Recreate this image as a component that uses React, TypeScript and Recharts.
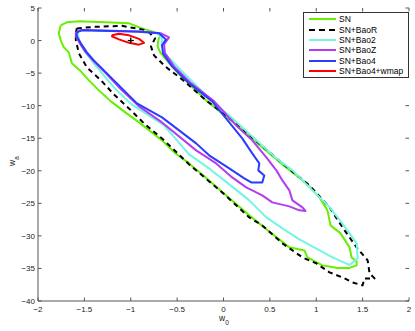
import { ScatterChart, Scatter, XAxis, YAxis, Legend } from 'recharts';

const FONT = '"Liberation Sans", Arial, Helvetica, sans-serif';
const AXIS = '#555';
const PLOT = { left: 38, right: 409, top: 8, bottom: 301 };

const xTicks = [-2, -1.5, -1, -0.5, 0, 0.5, 1, 1.5, 2];
const yTicks = [-40, -35, -30, -25, -20, -15, -10, -5, 0, 5];

const seriesNames = ['SN', 'SN+BaoR', 'SN+Bao2', 'SN+BaoZ', 'SN+Bao4', 'SN+Bao4+wmap'];
const seriesColors = ['#66f000', '#000000', '#72f5e4', '#b33cf0', '#2a3cff', '#ff0000'];

// contour outlines, [w0, wa]
const sn: [number, number][] = [
  [-1.755, 2.33], [-1.69, 2.8], [-1.559, 2.95], [-1.271, 2.8], [-1.019, 2.64], [-0.879, 1.87],
  [-0.771, 1.41], [-0.674, 0.95], [-0.701, 0.18], [-0.711, -0.89], [-0.679, -1.89], [-0.565, -3.81],
  [-0.447, -5.65], [-0.187, -9.19], [0.17, -13.33], [0.4, -16.2], [0.635, -19.02], [0.894, -21.94],
  [1.035, -24.09], [1.121, -26.08], [1.154, -28.39], [1.262, -29.61], [1.359, -31.76], [1.381, -33.3],
  [1.435, -33.92], [1.435, -34.53], [1.359, -34.92], [1.229, -34.92], [1.067, -34.53], [0.905, -33.3],
  [0.872, -32.23], [0.71, -31.76], [0.462, -28.99], [0.278, -26.85], [0.029, -23.78], [-0.155, -21.48],
  [-0.371, -18.87], [-0.52, -17.3], [-0.663, -15.33], [-0.911, -12.57], [-1.073, -10.88], [-1.214, -9.34],
  [-1.344, -7.65], [-1.451, -6.11], [-1.538, -4.73], [-1.635, -3.5], [-1.668, -1.81], [-1.722, -1.04],
  [-1.755, 0.03], [-1.776, 1.11],
];

const snBaoR: [number, number][] = [
  [-1.582, 1.87], [-1.398, 2.1], [-1.095, 2.26], [-0.857, 1.64], [-0.803, 1.26], [-0.738, 0.34],
  [-0.782, -0.89], [-0.749, -2.27], [-0.63, -3.96], [-0.447, -5.96], [-0.187, -9.19], [0.094, -12.26],
  [0.635, -18.87], [0.927, -22.25], [1.143, -25.62], [1.283, -28.69], [1.435, -31.76], [1.554, -33.76],
  [1.575, -35.76], [1.629, -36.53], [1.521, -36.53], [1.499, -37.6], [1.391, -37.14], [1.283, -36.38],
  [1.143, -35.6], [1.002, -34.23], [0.851, -33.3], [0.635, -31.15], [0.418, -28.39], [0.278, -27.16],
  [-0.014, -23.32], [-0.371, -19.02], [-0.641, -15.33], [-0.857, -12.72], [-0.998, -10.72], [-1.182, -8.26],
  [-1.321, -6.11], [-1.473, -4.12], [-1.559, -1.97], [-1.592, 0.03], [-1.592, 1.11],
];

const snBao2: [number, number][] = [
  [-1.571, 1.41], [-1.506, 1.62], [-0.911, 1.41], [-0.717, 1.18], [-0.663, 0.34], [-0.668, -0.74],
  [-0.641, -1.81], [-0.479, -4.27], [-0.187, -8.42], [0.094, -11.95], [0.57, -18.1], [0.743, -19.94],
  [1.143, -25.58], [1.272, -27.92], [1.359, -29.61], [1.435, -31.15], [1.446, -33.46], [1.359, -34.45],
  [1.175, -33.3], [0.818, -30.54], [0.635, -28.85], [0.462, -27.16], [0.278, -24.55], [0.062, -22.09],
  [-0.155, -19.64], [-0.371, -17.48], [-0.641, -13.03], [-1.001, -9.69], [-1.182, -7.19], [-1.398, -3.5],
  [-1.506, -1.51], [-1.559, 0.03],
];

const snBaoZ: [number, number][] = [
  [-1.592, 1.26], [-1.528, 1.64], [-0.911, 1.41], [-0.674, 1.11], [-0.587, 0.49], [-0.641, -0.58],
  [-0.63, -1.97], [-0.533, -3.96], [-0.349, -6.57], [-0.1, -9.34], [0.137, -13.03], [0.31, -15.33],
  [0.462, -17.94], [0.57, -19.94], [0.635, -21.48], [0.71, -23.01], [0.743, -24.55], [0.851, -25.62],
  [0.884, -26.16], [0.818, -26.08], [0.71, -25.47], [0.526, -24.85], [0.418, -23.78], [0.245, -22.55],
  [0.094, -21.02], [-0.079, -18.87], [-0.295, -16.87], [-0.663, -12.57], [-0.911, -10.11], [-1.106, -7.5],
  [-1.257, -5.19], [-1.398, -3.2], [-1.484, -1.81], [-1.549, -0.43], [-1.592, 0.65],
];

const snBao4: [number, number][] = [
  [-1.582, 1.26], [-1.528, 1.57], [-0.911, 1.34], [-0.695, 1.11], [-0.62, 0.18], [-0.663, -0.74],
  [-0.652, -1.97], [-0.555, -3.96], [-0.371, -6.57], [-0.122, -9.34], [0.062, -12.57], [0.202, -15.02],
  [0.31, -17.33], [0.386, -18.87], [0.375, -19.94], [0.44, -20.71], [0.418, -21.79], [0.299, -21.79],
  [0.224, -21.17], [0.062, -19.64], [-0.155, -17.63], [-0.295, -15.79], [-0.663, -11.8], [-0.933, -9.65],
  [-1.106, -7.19], [-1.257, -5.04], [-1.398, -3.04], [-1.473, -1.81], [-1.538, -0.43], [-1.582, 0.65],
];

const snBao4Wmap: [number, number][] = [
  [-1.203, 0.8], [-1.127, 1.06], [-1.019, 0.8], [-0.911, 0.26], [-0.857, -0.35], [-0.911, -0.63],
  [-1.019, -0.35], [-1.127, 0.18], [-1.203, 0.65],
];

const fiducial: [number, number][] = [[-1, 0]];

const contours = [sn, snBaoR, snBao2, snBaoZ, snBao4, snBao4Wmap];

const closed = (pts: [number, number][]) =>
  pts.concat([pts[0]]).map(([x, y]) => ({ x, y }));

// matlab-style minus sign
const fmt = (v: number) => String(v).replace('-', '\u2212');

const NoDot = () => <g />;

const PlusMark = (props: any) => {
  const { cx, cy } = props;
  return (
    <g stroke="#000" strokeWidth={1.3}>
      <line x1={cx - 3} x2={cx + 3} y1={cy} y2={cy} />
      <line x1={cx} x2={cx} y1={cy - 3} y2={cy + 3} />
    </g>
  );
};

const XTick = (props: any) => {
  const { x, payload } = props;
  return (
    <g>
      <line x1={x} x2={x} y1={PLOT.bottom} y2={PLOT.bottom - 3.5} stroke={AXIS} />
      <line x1={x} x2={x} y1={PLOT.top} y2={PLOT.top + 3.5} stroke={AXIS} />
      <text x={x} y={PLOT.bottom + 10.5} textAnchor="middle" fontSize={8} fontFamily={FONT} fill="#222">
        {fmt(payload.value)}
      </text>
    </g>
  );
};

const YTick = (props: any) => {
  const { y, payload } = props;
  return (
    <g>
      <line x1={PLOT.left} x2={PLOT.left + 3.5} y1={y} y2={y} stroke={AXIS} />
      <line x1={PLOT.right} x2={PLOT.right - 3.5} y1={y} y2={y} stroke={AXIS} />
      <text x={PLOT.left - 3} y={y + 3} textAnchor="end" fontSize={8} fontFamily={FONT} fill="#222">
        {fmt(payload.value)}
      </text>
    </g>
  );
};

const XTitle = () => (
  <text x={219} y={321} fontSize={8.5} fontFamily={FONT} fill="#222">
    w<tspan dy={3.5} fontSize={6.5}>0</tspan>
  </text>
);

const YTitle = () => (
  <text transform="translate(15, 161) rotate(-90)" textAnchor="middle" fontSize={8.5} fontFamily={FONT} fill="#222">
    w<tspan dy={3.5} fontSize={6.5}>a</tspan>
  </text>
);

function LegendBox() {
  return (
    <div
      style={{
        boxSizing: 'border-box',
        width: 106,
        border: '1px solid #333',
        background: '#fff',
        padding: '1px 0 1px 4px',
        fontFamily: FONT,
        fontSize: 8.5,
        color: '#000',
      }}
    >
      {seriesNames.map((name, i) => (
        <div key={name} style={{ display: 'flex', alignItems: 'center', height: 10.35 }}>
          <svg width={29} height={6}>
            <line
              x1={1}
              x2={28}
              y1={3}
              y2={3}
              stroke={seriesColors[i]}
              strokeWidth={2}
              strokeDasharray={i === 1 ? '6 4' : undefined}
            />
          </svg>
          <span style={{ marginLeft: 2, whiteSpace: 'nowrap' }}>{name}</span>
        </div>
      ))}
    </div>
  );
}

export default function App() {
  return (
    <div style={{ position: 'absolute', left: 0, top: 0, background: '#fff' }}>
      <ScatterChart width={415} height={331} margin={{ top: 8, right: 6, bottom: 0, left: 8 }}>
        <XAxis
          type="number"
          dataKey="x"
          domain={[-2, 2]}
          ticks={xTicks}
          interval={0}
          allowDataOverflow
          height={30}
          tickSize={0}
          tickLine={false}
          axisLine={{ stroke: AXIS }}
          tick={<XTick />}
          label={<XTitle />}
        />
        <XAxis xAxisId="top" orientation="top" type="number" domain={[-2, 2]} height={0} tick={false} tickLine={false} axisLine={{ stroke: AXIS }} />
        <YAxis
          type="number"
          dataKey="y"
          domain={[-40, 5]}
          ticks={yTicks}
          interval={0}
          allowDataOverflow
          width={30}
          tickSize={0}
          tickLine={false}
          axisLine={{ stroke: AXIS }}
          tick={<YTick />}
          label={<YTitle />}
        />
        <YAxis yAxisId="right" orientation="right" type="number" domain={[-40, 5]} width={0} tick={false} tickLine={false} axisLine={{ stroke: AXIS }} />
        {contours.map((c, i) => (
          <Scatter
            key={seriesNames[i]}
            name={seriesNames[i]}
            data={closed(c)}
            fill={seriesColors[i]}
            line={{
              stroke: seriesColors[i],
              strokeWidth: 2,
              strokeLinejoin: 'round',
              strokeDasharray: i === 1 ? '5 4' : undefined,
            }}
            shape={<NoDot />}
            isAnimationActive={false}
          />
        ))}
        <Scatter
          name="fiducial"
          data={fiducial.map(([x, y]) => ({ x, y }))}
          fill="#000"
          shape={<PlusMark />}
          isAnimationActive={false}
        />
        <Legend
          layout="vertical"
          align="center"
          verticalAlign="middle"
          content={<LegendBox />}
          wrapperStyle={{ left: 303, top: 12, width: 106, height: 'auto' }}
        />
      </ScatterChart>
    </div>
  );
}
